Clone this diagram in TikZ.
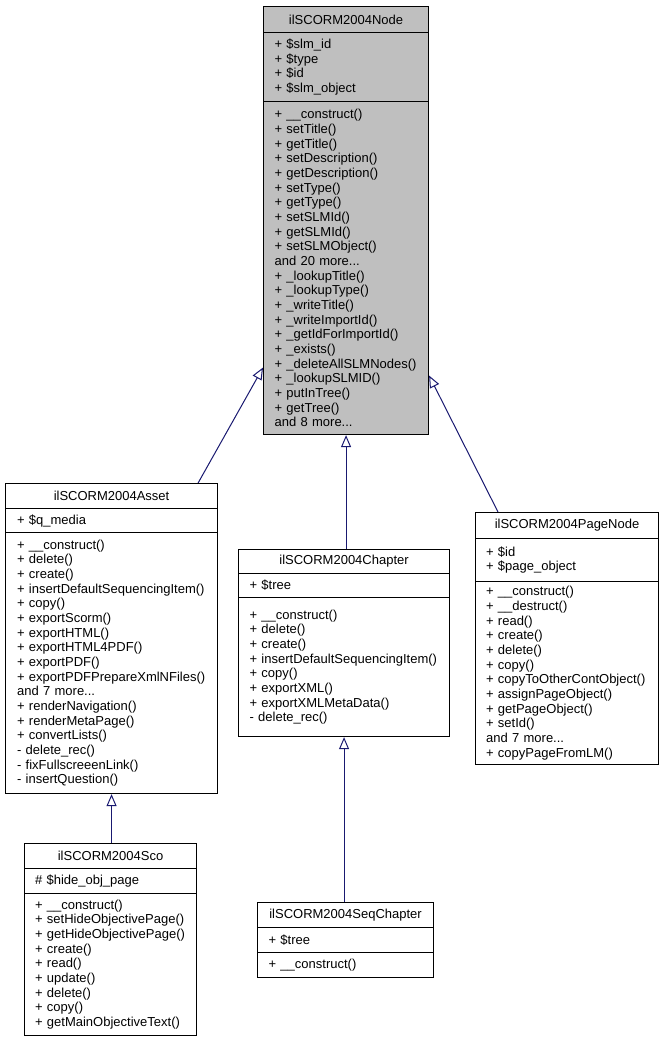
\documentclass[tikz,border=0pt]{standalone}
\usepackage{fontspec}
\setmainfont{Liberation Sans}
\usepackage{tikz}
\pgfdeclarelayer{nodelayer}
\pgfdeclarelayer{edgelayer}
\pgfsetlayers{edgelayer,nodelayer,main}
\usetikzlibrary{arrows.meta}
\definecolor{edgeblue}{HTML}{191970}
\definecolor{basegrey}{HTML}{BFBFBF}

\begin{document}
\begin{tikzpicture}[x=1pt,y=-1pt,
	font={\fontsize{13}{14.67}\selectfont},
	part/.style n args={3}{draw=black,line width=1.1pt,anchor=north west,align=left,inner sep=0pt,text width=#3pt,minimum width=#1pt,minimum height=#2pt},
	head/.style 2 args={draw=black,line width=1.1pt,anchor=north west,align=center,inner sep=0pt,minimum width=#1pt,minimum height=#2pt},
	derived/.style={draw=edgeblue,line width=1pt,-{Triangle[open,length=12pt,width=10pt]}}]
	\useasboundingbox (0,0) rectangle (663,1043);
	\begin{pgfonlayer}{nodelayer}
		% base class
		\node [head={165}{26},fill=basegrey] (0) at (263, 6) {ilSCORM2004Node};
		\node [part={165}{69}{143},fill=basegrey] (1) at (263, 32) {+ \$slm\_id\\+ \$type\\+ \$id\\+ \$slm\_object};
		\node [part={165}{333}{143},fill=basegrey] (2) at (263, 101) {+ \_\_construct()\\+ setTitle()\\+ getTitle()\\+ setDescription()\\+ getDescription()\\+ setType()\\+ getType()\\+ setSLMId()\\+ getSLMId()\\+ setSLMObject()\\and 20 more...\\+ \_lookupTitle()\\+ \_lookupType()\\+ \_writeTitle()\\+ \_writeImportId()\\+ \_getIdForImportId()\\+ \_exists()\\+ \_deleteAllSLMNodes()\\+ \_lookupSLMID()\\+ putInTree()\\+ getTree()\\and 8 more...};
		% derived classes
		\node [head={212}{25}] (3) at (5, 483) {ilSCORM2004Asset};
		\node [part={212}{24}{189}] (4) at (5, 508) {+ \$q\_media};
		\node [part={212}{261}{189}] (5) at (5, 532) {+ \_\_construct()\\+ delete()\\+ create()\\+ insertDefaultSequencingItem()\\+ copy()\\+ exportScorm()\\+ exportHTML()\\+ exportHTML4PDF()\\+ exportPDF()\\+ exportPDFPrepareXmlNFiles()\\and 7 more...\\+ renderNavigation()\\+ renderMetaPage()\\+ convertLists()\\- delete\_rec()\\- fixFullscreeenLink()\\- insertQuestion()};
		\node [head={211}{24}] (6) at (238, 549) {ilSCORM2004Chapter};
		\node [part={211}{24}{189}] (7) at (238, 573) {+ \$tree};
		\node [part={211}{139}{189}] (8) at (238, 597) {+ \_\_construct()\\+ delete()\\+ create()\\+ insertDefaultSequencingItem()\\+ copy()\\+ exportXML()\\+ exportXMLMetaData()\\- delete\_rec()};
		\node [head={183}{26}] (9) at (475, 512) {ilSCORM2004PageNode};
		\node [part={183}{43}{162}] (10) at (475, 538) {+ \$id\\+ \$page\_object};
		\node [part={183}{183}{162}] (11) at (475, 581) {+ \_\_construct()\\+ \_\_destruct()\\+ read()\\+ create()\\+ delete()\\+ copy()\\+ copyToOtherContObject()\\+ assignPageObject()\\+ getPageObject()\\+ setId()\\and 7 more...\\+ copyPageFromLM()};
		\node [head={172}{25}] (12) at (24, 843) {ilSCORM2004Sco};
		\node [part={172}{25}{151}] (13) at (24, 868) {\# \$hide\_obj\_page};
		\node [part={172}{142}{151}] (14) at (24, 893) {+ \_\_construct()\\+ setHideObjectivePage()\\+ getHideObjectivePage()\\+ create()\\+ read()\\+ update()\\+ delete()\\+ copy()\\+ getMainObjectiveText()};
		\node [head={176}{25}] (15) at (257, 902) {ilSCORM2004SeqChapter};
		\node [part={176}{25}{154}] (16) at (257, 927) {+ \$tree};
		\node [part={176}{25}{154}] (17) at (257, 952) {+ \_\_construct()};
	\end{pgfonlayer}
	\begin{pgfonlayer}{edgelayer}
		\draw [derived] ([xshift=-20pt]3.north east) to ([yshift=-99.5pt]2.west);
		\draw [derived] (2.south |- 6.north) to (2.south);
		\draw [derived] ([xshift=23pt]9.north west) to ([yshift=-107.5pt]2.east);
		\draw [derived] (5.south |- 12.north) to (5.south);
		\draw [derived] (8.south |- 15.north) to (8.south);
	\end{pgfonlayer}
\end{tikzpicture}
\end{document}
